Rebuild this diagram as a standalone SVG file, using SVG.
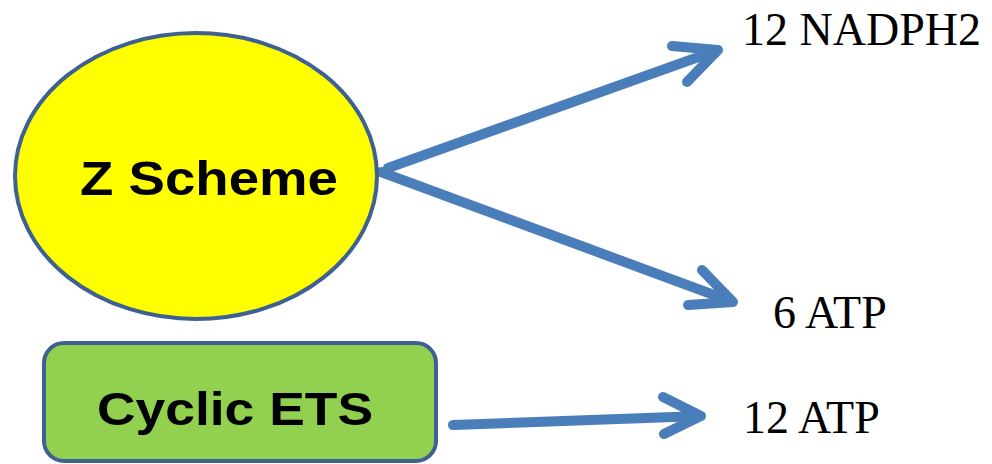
<svg xmlns="http://www.w3.org/2000/svg" width="992" height="464" viewBox="0 0 992 464">
<style>
.node{stroke:#3E6192;stroke-width:4}
.lbl{font-family:"Liberation Sans",Arial,sans-serif;font-weight:bold;fill:#000}
.out{font-family:"Liberation Serif","Times New Roman",serif;fill:#000;font-size:46px}
.arr{fill:none;stroke:#4A7EBB;stroke-width:10;stroke-linecap:round;stroke-linejoin:round}
</style>
<rect width="992" height="464" fill="#fff"/>
<g id="connectors">
<path class="arr" d="M388,168 L718,50 M672,46 L718,50 L687,82"/>
<path class="arr" d="M381,172 L733,302 M702,270 L733,302 L688,305"/>
<path class="arr" d="M453,425 L701,416 M663,397 L701,416 L664,434"/>
</g>
<g id="zscheme">
<ellipse class="node" cx="196" cy="176" rx="181" ry="143" fill="#FFFF00"/>
<text class="lbl" x="80" y="195" font-size="48" textLength="258" lengthAdjust="spacingAndGlyphs">Z Scheme</text>
</g>
<g id="cyclic">
<rect class="node" x="44" y="343" width="392" height="118" rx="20" fill="#92D050"/>
<text class="lbl" x="97" y="425" font-size="46" textLength="276" lengthAdjust="spacingAndGlyphs">Cyclic ETS</text>
</g>
<g id="nadph">
<text class="out" x="742" y="45">12 NADPH2</text>
</g>
<g id="atp6">
<text class="out" x="773" y="328">6 ATP</text>
</g>
<g id="atp12">
<text class="out" x="743" y="433">12 ATP</text>
</g>
</svg>
